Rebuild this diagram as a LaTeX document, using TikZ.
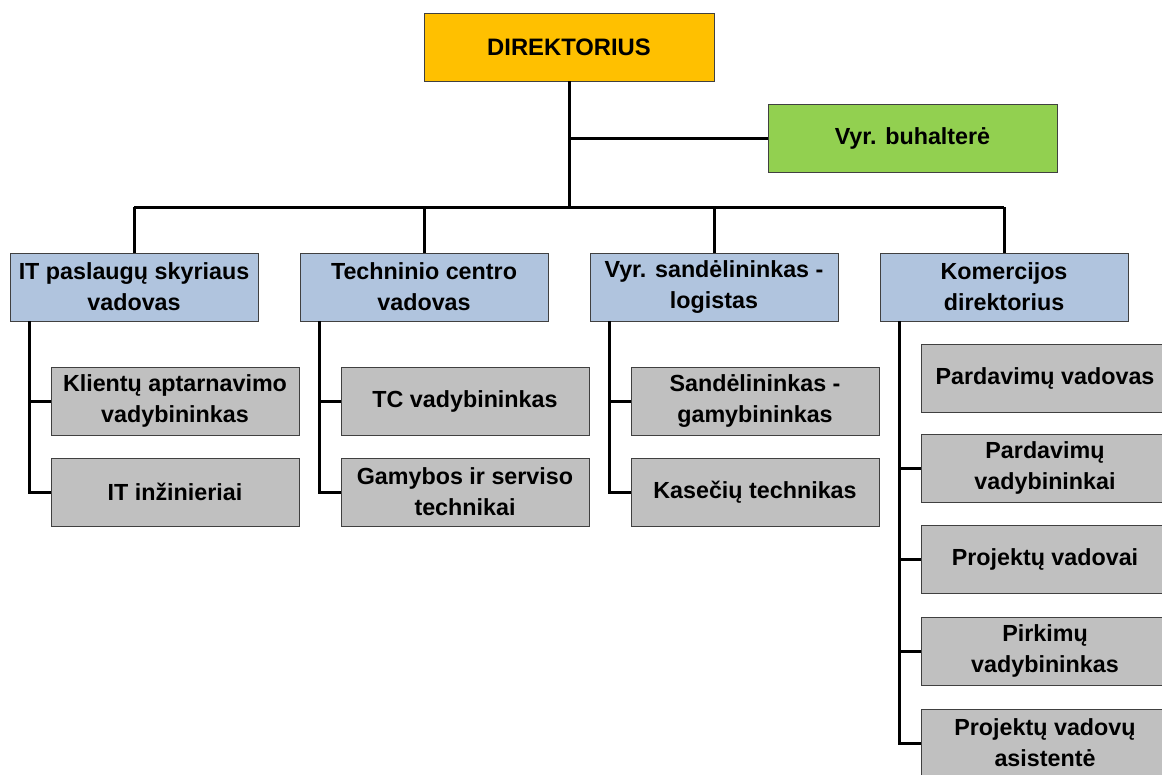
\documentclass[tikz,border=0pt]{standalone}
\usepackage{fontspec}
\setmainfont{Liberation Sans}

\definecolor{chiefgold}{HTML}{FFC000}
\definecolor{buhgreen}{HTML}{92D050}
\definecolor{headblue}{HTML}{B0C4DE}
\definecolor{staffgray}{HTML}{C0C0C0}
\definecolor{edgegray}{HTML}{404040}

\begin{document}
\begin{tikzpicture}[
    x=1pt, y=-1pt,
    font=\bfseries\fontsize{23.3}{31}\selectfont,
    box/.style={draw=edgegray, line width=0.9pt, align=center, inner sep=1pt,
        minimum width=248pt, minimum height=68pt},
    chief/.style={box, fill=chiefgold, minimum width=290pt, font=\bfseries\fontsize{23.8}{31}\selectfont},
    accountant/.style={box, fill=buhgreen, minimum width=289pt},
    head/.style={box, fill=headblue},
    staff/.style={box, fill=staffgray},
    conn/.style={line width=3pt, black}
]
\useasboundingbox (0,0) rectangle (1162,774);
\clip (0,0) rectangle (1162,774);

% top
\node[chief] (dir) at (569,47) {DIREKTORIUS};
\node[accountant] (buh) at (912.5,138) {Vyr. buhalterė};

% department heads
\node[head] (it)  at (134,287)  {IT paslaugų skyriaus\\vadovas};
\node[head] (tc)  at (424,287)  {Techninio centro\\vadovas};
\node[head] (vs)  at (714,287)  {Vyr. sandėlininkas -\\logistas};
\node[head] (kom) at (1004,287) {Komercijos\\direktorius};

% staff
\node[staff] (kl)  at (175,401) {Klientų aptarnavimo\\vadybininkas};
\node[staff] (iti) at (175,492) {IT inžinieriai};
\node[staff] (tcv) at (465,401) {TC vadybininkas};
\node[staff] (gs)  at (465,492) {Gamybos ir serviso\\technikai};
\node[staff] (sg)  at (755,401) {Sandėlininkas -\\gamybininkas};
\node[staff] (kt)  at (755,492) {Kasečių technikas};
\node[staff] (pv)  at (1045,378) {Pardavimų vadovas};
\node[staff] (pvb) at (1045,468) {Pardavimų\\vadybininkai};
\node[staff] (pjv) at (1045,559) {Projektų vadovai};
\node[staff] (pkv) at (1045,651) {Pirkimų\\vadybininkas};
\node[staff] (pva) at (1045,743) {Projektų vadovų\\asistentė};

% connectors
\coordinate (bus) at (569,207);
\draw[conn] (dir.south) -- (bus);
\draw[conn] (dir.south |- buh.west) -- (buh.west);
\draw[conn] (bus -| it.north) -- (bus -| kom.north);
\foreach \h in {it,tc,vs,kom}
    \draw[conn] (bus -| \h.north) -- (\h.north);

\draw[conn] ([xshift=20pt]it.south west) |- (kl.west);
\draw[conn] ([xshift=20pt]it.south west) |- (iti.west);
\draw[conn] ([xshift=20pt]tc.south west) |- (tcv.west);
\draw[conn] ([xshift=20pt]tc.south west) |- (gs.west);
\draw[conn] ([xshift=20pt]vs.south west) |- (sg.west);
\draw[conn] ([xshift=20pt]vs.south west) |- (kt.west);
\foreach \s in {pvb,pjv,pkv,pva}
    \draw[conn] ([xshift=20pt]kom.south west) |- (\s.west);

\end{tikzpicture}
\end{document}
